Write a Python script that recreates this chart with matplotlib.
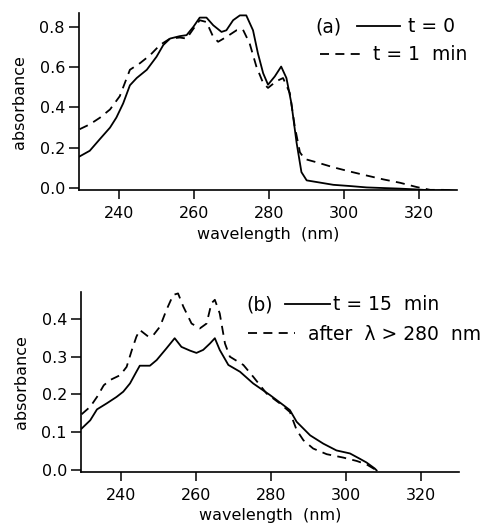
import numpy as np
import matplotlib.pyplot as plt
from matplotlib.lines import Line2D

plt.rcParams['font.family'] = ['DejaVu Sans']

# (a) spectra: t = 0 and t = 1 min
wl_a0 = [229.5, 232.2, 234.9, 237.6, 239.3, 241.1, 242.9, 244.7, 247.4, 250.0,
         251.8, 253.6, 256.2, 258.0, 259.8, 261.5, 263.3, 265.1, 267.3, 268.6,
         270.4, 272.2, 273.9, 275.7, 277.0, 278.4, 279.7, 281.5, 283.2, 284.6,
         285.9, 287.3, 288.6, 290.0, 292.6, 297.1, 301.5, 306.0, 310.4, 314.9,
         319.3, 323.8, 327.3, 330.0]
abs_a0 = [0.157, 0.185, 0.243, 0.300, 0.350, 0.420, 0.510, 0.546, 0.587, 0.652,
          0.710, 0.742, 0.754, 0.759, 0.800, 0.846, 0.846, 0.808, 0.775, 0.783,
          0.833, 0.857, 0.857, 0.783, 0.669, 0.570, 0.513, 0.554, 0.603, 0.546,
          0.423, 0.226, 0.079, 0.038, 0.030, 0.016, 0.010, 0.003, 0.000, -0.003,
          -0.007, -0.012, -0.010, -0.014]

wl_a1 = [229.5, 232.2, 234.9, 237.6, 240.2, 242.9, 245.6, 248.3, 250.9, 253.6,
         256.2, 258.0, 259.8, 261.5, 263.3, 265.1, 266.4, 268.6, 271.3, 273.0,
         274.8, 276.6, 278.4, 279.7, 281.9, 283.7, 285.5, 286.8, 288.2, 289.5,
         292.6, 297.1, 301.5, 306.0, 310.4, 314.9, 319.3, 322.9, 326.4, 330.0]
abs_a1 = [0.292, 0.316, 0.349, 0.390, 0.456, 0.587, 0.620, 0.660, 0.710, 0.742,
          0.747, 0.742, 0.790, 0.833, 0.824, 0.750, 0.726, 0.750, 0.783, 0.787,
          0.718, 0.603, 0.521, 0.497, 0.530, 0.546, 0.472, 0.308, 0.177, 0.144,
          0.128, 0.103, 0.082, 0.062, 0.043, 0.026, 0.005, -0.009, -0.009, -0.014]

# (b) spectra: t = 15 min and after irradiation at > 280 nm
wl_b0 = [229.5, 231.8, 233.6, 236.2, 238.8, 240.6, 242.4, 244.1, 245.0, 247.7,
         249.5, 252.1, 254.3, 256.1, 258.4, 260.1, 261.9, 263.7, 265.0, 266.3,
         268.6, 271.7, 275.2, 279.7, 283.3, 285.0, 286.8, 290.4, 293.9, 297.4,
         301.0, 303.6, 305.4, 307.6, 308.1]
abs_b0 = [0.109, 0.131, 0.160, 0.176, 0.193, 0.207, 0.229, 0.260, 0.276, 0.276,
          0.291, 0.322, 0.349, 0.326, 0.316, 0.310, 0.318, 0.335, 0.349, 0.318,
          0.278, 0.260, 0.229, 0.198, 0.171, 0.158, 0.127, 0.091, 0.069, 0.051,
          0.043, 0.029, 0.019, 0.003, -0.002]

wl_b1 = [229.5, 231.8, 233.6, 235.4, 237.1, 239.8, 241.5, 242.9, 244.1, 245.0,
         247.3, 248.6, 250.4, 252.1, 253.9, 255.2, 256.6, 258.8, 261.0, 262.8,
         264.1, 265.0, 266.3, 267.7, 269.0, 272.6, 275.2, 278.8, 282.3, 285.0,
         286.8, 288.6, 291.2, 294.8, 299.2, 302.8, 305.4, 308.1]
abs_b1 = [0.147, 0.167, 0.193, 0.224, 0.238, 0.251, 0.273, 0.318, 0.353, 0.371,
          0.353, 0.357, 0.380, 0.424, 0.464, 0.468, 0.433, 0.388, 0.375, 0.388,
          0.442, 0.451, 0.415, 0.335, 0.300, 0.278, 0.247, 0.202, 0.176, 0.153,
          0.105, 0.078, 0.056, 0.041, 0.032, 0.023, 0.014, -0.002]

x_ticks = [240, 260, 280, 300, 320]
y_ticks_a = [0.0, 0.2, 0.4, 0.6, 0.8]
y_ticks_b = [0.0, 0.1, 0.2, 0.3, 0.4]

dash = (0, (5, 3.5))
lw = 1.3
tfs = 11.5

fig = plt.figure(figsize=(4.96, 5.32), dpi=100)
ax1 = fig.add_axes([0.159, 0.642, 0.762, 0.334])
ax2 = fig.add_axes([0.163, 0.113, 0.762, 0.339])


def style(ax, yticks, ylim):
    ax.set_xlim(229.3, 330)
    ax.set_ylim(*ylim)
    ax.set_xticks(x_ticks)
    ax.set_yticks(yticks)
    ax.set_yticklabels(["%.1f" % v for v in yticks])
    for s in ['top', 'right']:
        ax.spines[s].set_visible(False)
    for s in ['left', 'bottom']:
        ax.spines[s].set_linewidth(1.2)
    ax.tick_params(axis='x', length=6.5, width=1.1, pad=5, labelsize=tfs)
    ax.tick_params(axis='y', length=7, width=1.1, pad=3, labelsize=tfs)
    ax.set_xlabel("wavelength  (nm)", fontsize=tfs, labelpad=4)
    ax.set_ylabel("absorbance", fontsize=tfs, labelpad=9)


# ---- panel (a)
ax1.plot(wl_a0, abs_a0, color='black', lw=lw)
ax1.plot(wl_a1, abs_a1, color='black', lw=lw, linestyle=dash)
style(ax1, y_ticks_a, (-0.012, 0.87))

# ---- panel (b)
ax2.plot(wl_b0, abs_b0, color='black', lw=lw)
ax2.plot(wl_b1, abs_b1, color='black', lw=lw, linestyle=dash)
style(ax2, y_ticks_b, (-0.006, 0.473))

W, H = 496.0, 532.0
fs = 13.5


def entry(x_px, y_px, label, ls, hlen_px, gap_px):
    h = Line2D([], [], color='black', lw=lw, linestyle=ls)
    fpx = fs * 100 / 72.0
    leg = fig.legend([h], [label], loc='center left',
                     bbox_to_anchor=(x_px / W, 1 - y_px / H),
                     frameon=False, fontsize=fs, borderpad=0,
                     borderaxespad=0, handlelength=hlen_px / fpx,
                     handletextpad=gap_px / fpx)
    return leg


fig.text(315 / W, 1 - 27 / H, "(a)", fontsize=fs, va='center', ha='left')
entry(357, 27, "t = 0", '-', 43, 8)
entry(320, 55, "t = 1  min", dash, 42, 11)

fig.text(246 / W, 1 - 305 / H, "(b)", fontsize=fs, va='center', ha='left')
entry(285, 305, "t = 15  min", '-', 45, 3)
entry(248, 334, "after  λ > 280  nm", dash, 47, 13)

fig.savefig("out.png", dpi=100)
